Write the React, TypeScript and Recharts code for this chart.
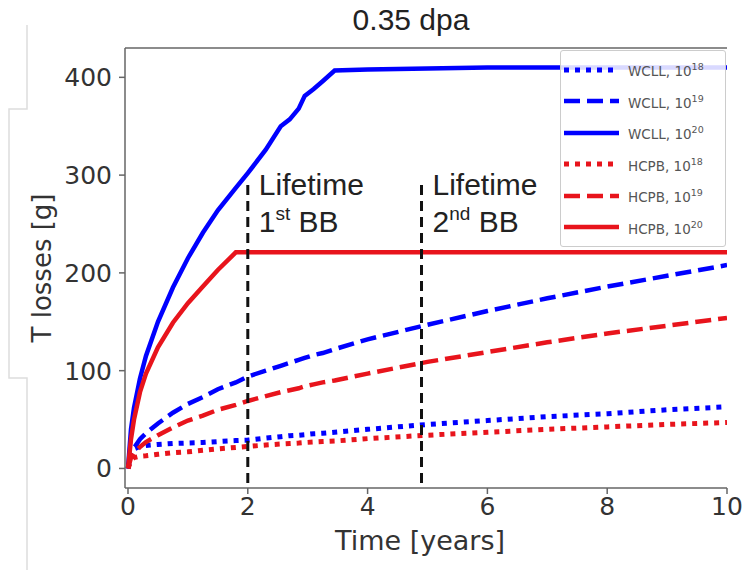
import React from "react";
import { LineChart, Line, XAxis, YAxis, ReferenceLine } from "recharts";

// time grid [years]
const years = [
  0, 0.05, 0.1, 0.2, 0.3, 0.5, 0.75, 1, 1.25, 1.5, 1.8, 2, 2.3, 2.55, 2.7,
  2.85, 2.95, 3.1, 3.25, 3.45, 4, 5, 6, 7, 8, 9, 10,
];

// T losses [g]
const wcll18 = [
  0, 15, 20, 22.5, 23.5, 24.5, 25.5, 26, 26.5, 27.5, 28.5, 29, 31, 32.5, 33.5,
  34, 34.5, 35.5, 36, 37, 40, 45, 49, 53, 56, 60, 63,
];
const wcll19 = [
  0, 15, 21, 30, 36, 46, 57, 66, 73, 81, 88, 94, 100, 105, 108, 111, 113, 116,
  118, 122, 132, 147, 161, 174, 186, 197, 208,
];
const wcll20 = [
  0, 40, 62, 92, 115, 150, 185, 215, 241, 264, 287, 302, 326, 350, 357, 368,
  381, 388, 396, 407, 408, 409, 410, 410, 410, 410, 410,
];
const hcpb18 = [
  0, 8, 11, 12.5, 13, 14.5, 16, 17, 18.5, 20, 21.5, 22.5, 24, 25, 25.5, 26,
  26.5, 27, 27.5, 28, 30.5, 34, 37, 40, 42.5, 45, 47,
];
const hcpb19 = [
  0, 11, 16, 22, 27, 34, 42, 49, 54, 60, 65, 69, 74, 78, 80, 82, 84, 86, 88,
  90, 97, 109, 119, 129, 138, 146, 154,
];
const hcpb20 = [
  0, 30, 50, 78, 97, 124, 149, 169, 186, 203, 221, 221, 221, 221, 221, 221,
  221, 221, 221, 221, 221, 221, 221, 221, 221, 221, 221,
];

const xTicks = [0, 2, 4, 6, 8, 10];
const yTicks = [0, 100, 200, 300, 400];
const xDomain = [-0.05, 10];
const yDomain = [-20, 430];

// blanket lifetimes [years] and top of the marker [g]
const lifetimes = [
  { x: 2, num: "1", ord: "st" },
  { x: 4.9, num: "2", ord: "nd" },
];
const markerTop = 290;

const BLUE = "#0000ff";
const RED = "#e8141c";

const series = [
  { key: "wcll18", name: "WCLL", exp: "18", color: BLUE, dash: "5 6", width: 5 },
  { key: "wcll19", name: "WCLL", exp: "19", color: BLUE, dash: "16 7", width: 4.5 },
  { key: "wcll20", name: "WCLL", exp: "20", color: BLUE, dash: undefined, width: 4.5 },
  { key: "hcpb18", name: "HCPB", exp: "18", color: RED, dash: "5 6", width: 5 },
  { key: "hcpb19", name: "HCPB", exp: "19", color: RED, dash: "16 7", width: 4.5 },
  { key: "hcpb20", name: "HCPB", exp: "20", color: RED, dash: undefined, width: 4.5 },
];

const rows = years.map((t, i) => ({
  t,
  wcll18: wcll18[i],
  wcll19: wcll19[i],
  wcll20: wcll20[i],
  hcpb18: hcpb18[i],
  hcpb19: hcpb19[i],
  hcpb20: hcpb20[i],
}));

const tickFont = { fontFamily: "DejaVu Sans", fontSize: 25, fill: "#333" };
const axisColor = "#666";

function LegendBox() {
  return (
    <div
      style={{
        position: "absolute",
        left: 560,
        top: 50,
        width: 166,
        background: "rgba(255,255,255,0.85)",
        border: "1px solid #ccc",
        borderRadius: 3,
        padding: "3px 0",
        boxSizing: "border-box",
      }}
    >
      {series.map((s) => (
        <div
          key={s.key}
          style={{ display: "flex", alignItems: "center", height: 31.5 }}
        >
          <svg width={62} height={10} style={{ marginLeft: 1 }}>
            <line
              x1={2}
              y1={5}
              x2={57}
              y2={5}
              stroke={s.color}
              strokeWidth={s.width}
              strokeDasharray={s.dash}
            />
          </svg>
          <span
            style={{
              fontFamily: "DejaVu Sans",
              fontSize: 13.5,
              color: "#555",
              marginLeft: 4,
            }}
          >
            {s.name}, 10<sup style={{ fontSize: 9.5 }}>{s.exp}</sup>
          </span>
        </div>
      ))}
    </div>
  );
}

function lifetimeLabel(num: string, ord: string) {
  return (props: any) => {
    const vb = props.viewBox || {};
    const x = vb.x + 11;
    const y = vb.y;
    return (
      <text
        x={x}
        y={y + 10}
        fontFamily="Liberation Sans"
        fontSize={30}
        fill="#222"
      >
        <tspan x={x}>Lifetime</tspan>
        <tspan x={x} dy={37}>
          {num}
        </tspan>
        <tspan fontSize={19} dy={-12}>
          {ord}
        </tspan>
        <tspan dy={12}> BB</tspan>
      </text>
    );
  };
}

function yLabel(props: any) {
  const vb = props.viewBox || {};
  const cx = 42;
  const cy = vb.y + vb.height / 2;
  return (
    <text
      x={cx}
      y={cy}
      transform={`rotate(-90, ${cx}, ${cy})`}
      textAnchor="middle"
      dominantBaseline="central"
      fontFamily="DejaVu Sans"
      fontSize={26}
      fill="#333"
    >
      T losses [g]
    </text>
  );
}

export default function App() {
  return (
    <div
      style={{
        position: "absolute",
        left: 0,
        top: 0,
        width: 743,
        height: 570,
        background: "#fff",
        overflow: "hidden",
      }}
    >
      <svg
        width={40}
        height={570}
        style={{ position: "absolute", left: 0, top: 0 }}
      >
        <path
          d="M27 25 V109 H9 V378 H27 V570"
          fill="none"
          stroke="#ddd"
          strokeWidth={1.5}
        />
      </svg>
      <div
        style={{
          position: "absolute",
          left: 0,
          top: 3,
          width: 822,
          textAlign: "center",
          fontFamily: "Liberation Sans",
          fontSize: 30,
          color: "#222",
        }}
      >
        0.35 dpa
      </div>
      <LineChart
        width={743}
        height={570}
        data={rows}
        margin={{ top: 48, right: 16, bottom: 12, left: 0 }}
      >
        <XAxis
          dataKey="t"
          type="number"
          domain={xDomain}
          ticks={xTicks}
          allowDataOverflow
          height={70}
          tickSize={6}
          tickMargin={3}
          tick={tickFont}
          stroke={axisColor}
          strokeWidth={1.5}
          label={{
            value: "Time [years]",
            position: "insideBottom",
            offset: 8,
            dx: -6,
            style: { fontFamily: "DejaVu Sans", fontSize: 27, fill: "#333" },
          }}
        />
        <YAxis
          type="number"
          domain={yDomain}
          ticks={yTicks}
          allowDataOverflow
          width={125}
          tickSize={6}
          tickMargin={7}
          tick={tickFont}
          stroke={axisColor}
          strokeWidth={1.5}
          label={yLabel}
        />
        <YAxis
          yAxisId="right"
          orientation="right"
          domain={yDomain}
          width={0}
          tick={false}
          tickLine={false}
          stroke={axisColor}
          strokeWidth={1.5}
        />
        <ReferenceLine y={yDomain[1]} stroke={axisColor} strokeWidth={1.5} />
        {series.map((s) => (
          <Line
            key={s.key}
            type="linear"
            dataKey={s.key}
            stroke={s.color}
            strokeWidth={s.width}
            strokeDasharray={s.dash}
            dot={false}
            activeDot={false}
            isAnimationActive={false}
          />
        ))}
        {lifetimes.map((l) => (
          <ReferenceLine
            key={l.x}
            segment={[
              { x: l.x, y: markerTop },
              { x: l.x, y: yDomain[0] },
            ]}
            stroke="#111"
            strokeWidth={3}
            strokeDasharray="10 6"
            label={lifetimeLabel(l.num, l.ord)}
          />
        ))}
      </LineChart>
      <LegendBox />
    </div>
  );
}
